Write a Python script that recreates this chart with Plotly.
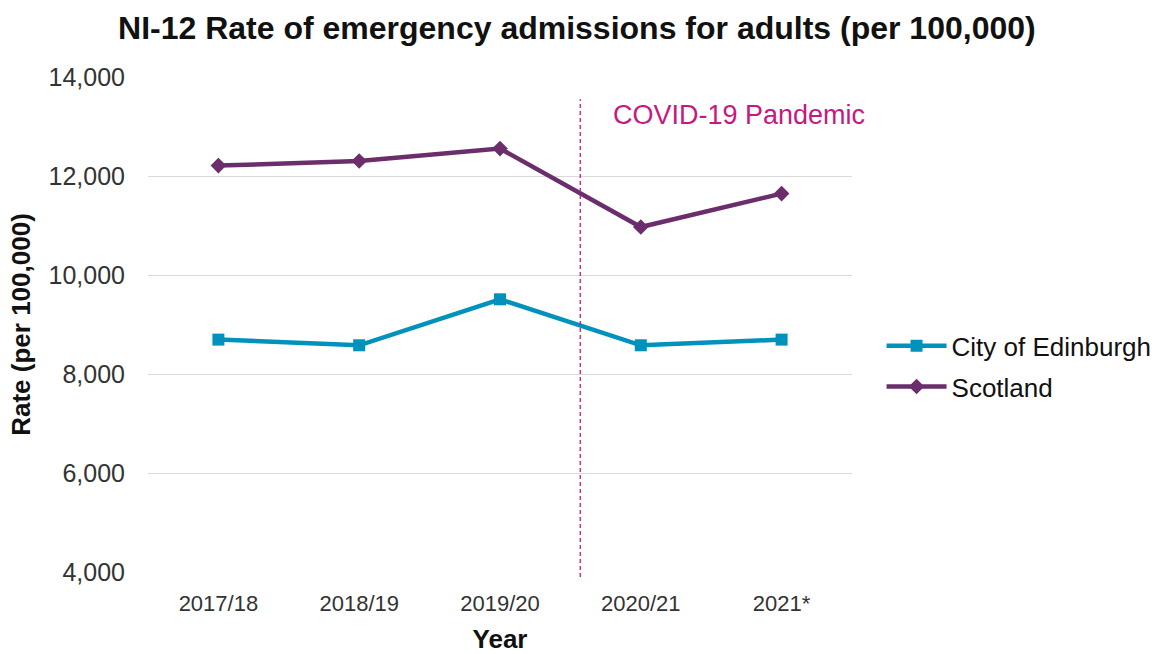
import plotly.graph_objects as go

years = ["2017/18", "2018/19", "2019/20", "2020/21", "2021*"]
edinburgh = [8695, 8580, 9509, 8580, 8695]
scotland = [12210, 12303, 12554, 10970, 11644]
y_ticks = [4000, 6000, 8000, 10000, 12000, 14000]
covid_x = 2.57  # pandemic marker between 2019/20 and 2020/21

FONT = "Liberation Sans, Arial, sans-serif"
EDI_COL = "#0092BD"
SCO_COL = "#6B2D6B"
COVID_COL = "#C8187F"

fig = go.Figure()
fig.add_trace(go.Scatter(
    x=list(range(len(years))), y=edinburgh, name="City of Edinburgh",
    legendgroup="edi",
    mode="lines+markers", line=dict(color=EDI_COL, width=4.5),
    marker=dict(symbol="square", size=12, color=EDI_COL),
))
fig.add_trace(go.Scatter(
    x=list(range(len(years))), y=scotland, name="Scotland",
    legendgroup="sco",
    mode="lines+markers", line=dict(color=SCO_COL, width=4.5),
    marker=dict(symbol="diamond", size=12, color=SCO_COL),
))

fig.add_shape(type="line", xref="x", yref="paper",
              x0=covid_x, x1=covid_x, y0=-0.01, y1=0.955,
              line=dict(color=COVID_COL, width=1.3, dash="4px,3px"))
fig.add_annotation(x=covid_x, xref="x", y=13230, yref="y",
                   xanchor="left", xshift=31, yanchor="middle",
                   text="COVID-19 Pandemic", showarrow=False,
                   font=dict(family=FONT, size=27, color=COVID_COL))

fig.update_layout(
    width=1163, height=654,
    paper_bgcolor="white", plot_bgcolor="white",
    margin=dict(l=148, r=311, t=77, b=82, autoexpand=False),
    title=dict(text="<b>NI-12 Rate of emergency admissions for adults (per 100,000)</b>",
               x=0.496, xanchor="center", y=0.958, yanchor="middle",
               font=dict(family=FONT, size=32, color="#111111")),
    font=dict(family=FONT, size=22, color="#333333"),
    showlegend=True,
    legend=dict(xref="container", yref="container",
                x=0.758, xanchor="left", y=0.44, yanchor="middle",
                font=dict(family=FONT, size=26, color="#111111"),
                tracegroupgap=4, itemwidth=60, bgcolor="rgba(0,0,0,0)"),
)
fig.update_xaxes(
    range=[-0.5, 4.5], tickmode="array",
    tickvals=list(range(len(years))), ticktext=years,
    showgrid=False, zeroline=False, showline=False, ticks="",
    ticklabelstandoff=16,
    tickfont=dict(family=FONT, size=22, color="#333333"),
    title=dict(text="<b>Year</b>", standoff=16,
               font=dict(family=FONT, size=26, color="#111111")),
)
fig.update_yaxes(
    range=[4000, 14000], tickmode="array", tickvals=y_ticks,
    tickformat=",", showgrid=True, gridcolor="#D9D9D9", gridwidth=1.3,
    zeroline=False, showline=False, ticks="", ticklen=0,
    ticklabelstandoff=22,
    tickfont=dict(family=FONT, size=25, color="#333333"),
    title=dict(text="<b>Rate (per 100,000)</b>", standoff=10,
               font=dict(family=FONT, size=26, color="#111111")),
)

fig.write_html("out.html")
